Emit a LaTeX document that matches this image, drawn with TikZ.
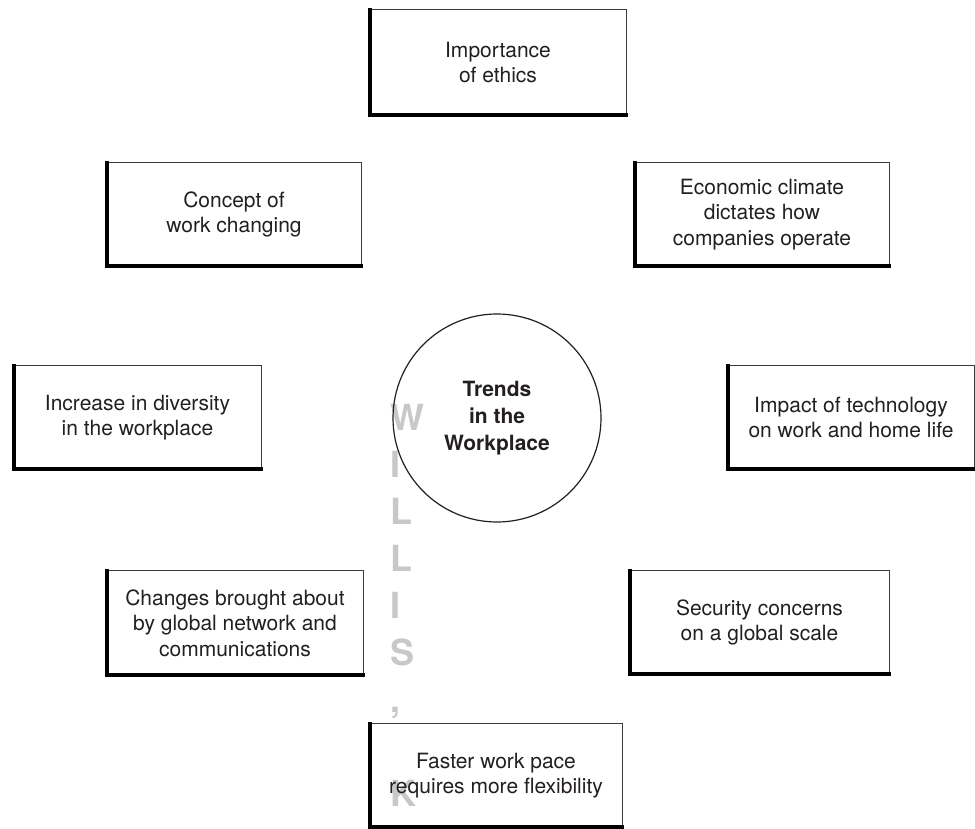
\documentclass[tikz,border=0pt]{standalone}
\usepackage{fontspec}
\setmainfont{TeX Gyre Heros}
\definecolor{txt}{HTML}{231F20}
\definecolor{edgegray}{HTML}{3A3A3A}
\definecolor{wmgray}{HTML}{C8C8C8}
\begin{document}
\begin{tikzpicture}[x=1pt,y=-1pt,
  tbox/.style={rectangle, inner sep=0pt, align=center, text=txt,
    font=\fontsize{21}{25.5}\selectfont},
  thinedge/.style={line width=1.3pt, draw=edgegray, line cap=rect},
  thickedge/.style={line width=4pt, draw=black, line cap=rect},
  hub/.style={circle, draw=txt, line width=1.2pt, inner sep=0pt,
    minimum size=208pt, align=center, text=txt,
    font=\fontsize{21}{27}\selectfont\bfseries},
  wm/.style={font=\fontsize{36}{36}\selectfont\bfseries, text=wmgray,
    anchor=base west, inner sep=0pt}]
\useasboundingbox (0,0) rectangle (975,829);

% watermark (behind everything)
\begin{scope}
\clip (0,0) rectangle (975,829);
\node[wm] (wm1) at (390.5,430) {W};
\node[wm] (wm2) at (390.5,477) {I};
\node[wm] (wm3) at (390.5,524) {L};
\node[wm] (wm4) at (390.5,571) {L};
\node[wm] (wm5) at (390.5,618) {I};
\node[wm] (wm6) at (390.5,665) {S};
\node[wm] (wm7) at (390.5,712) {,};
\node[wm] (wm8) at (390.5,806) {K};
\node[wm] (wm9) at (390.5,853) {A};
\end{scope}

% central circle
\node[hub] (hub) at (497,418) {Trends\\in the\\Workplace};

% boxes
\node[tbox, minimum width=256pt, minimum height=105pt] (imp) at (498,62.5)
  {Importance\\of ethics};
\node[tbox, minimum width=254pt, minimum height=103pt] (con) at (234,214.5)
  {Concept of\\work changing};
\node[tbox, minimum width=254pt, minimum height=103pt] (eco) at (762,214.5)
  {Economic climate\\dictates how\\companies operate};
\node[tbox, minimum width=247pt, minimum height=103pt] (inc) at (137.5,417.5)
  {Increase in diversity\\in the workplace};
\node[tbox, minimum width=246pt, minimum height=103pt] (imt) at (851,417.5)
  {Impact of technology\\on work and home life};
\node[tbox, minimum width=256pt, minimum height=104pt] (chg) at (235,623)
  {Changes brought about\\by global network and\\communications};
\node[tbox, minimum width=259pt, minimum height=103pt] (sec) at (759.5,622.5)
  {Security concerns\\on a global scale};
\node[tbox, minimum width=252pt, minimum height=103pt] (fas) at (496,775.5)
  {Faster work pace\\requires more flexibility};

\foreach \b in {imp,con,eco,inc,imt,chg,sec,fas}{
  \draw[thinedge] (\b.north west) -- (\b.north east) -- (\b.south east);
  \draw[thickedge] (\b.north west) -- (\b.south west) -- (\b.south east);
}
\end{tikzpicture}
\end{document}
